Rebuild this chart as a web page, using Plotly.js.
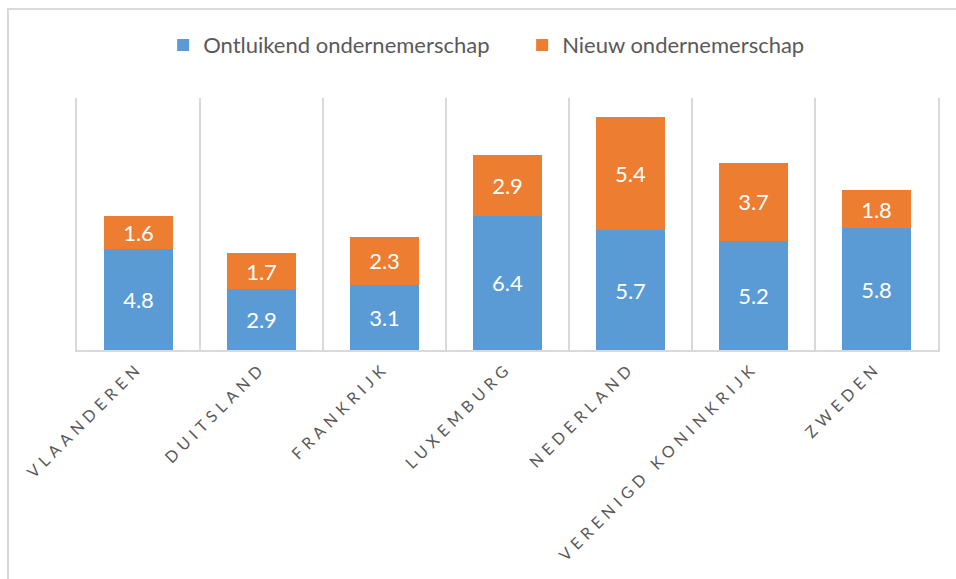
<!DOCTYPE html>
<html>
<head>
<meta charset="utf-8">
<script src="https://cdn.plot.ly/plotly-3.0.1.min.js"></script>
<style>
  html, body { margin: 0; padding: 0; background: #fff; overflow: hidden; }
  #wrap { position: relative; width: 956px; height: 579px; overflow: hidden; }
  #chart { position: absolute; left: 0; top: 0; width: 956px; height: 579px; }
  #frame { position: absolute; left: 7px; top: 8px; width: 1000px; height: 700px;
           border-top: 2px solid #d9d9d9; border-left: 2px solid #d9d9d9; pointer-events: none; }
  .xtick text { letter-spacing: 5px; }
</style>
</head>
<body>
<div id="wrap">
  <div id="chart"></div>
  <div id="frame"></div>
</div>
<script>
const categories = ["VLAANDEREN", "DUITSLAND", "FRANKRIJK", "LUXEMBURG", "NEDERLAND", "VERENIGD KONINKRIJK", "ZWEDEN"];
const ontluikend = [4.8, 2.9, 3.1, 6.4, 5.7, 5.2, 5.8];
const nieuw = [1.6, 1.7, 2.3, 2.9, 5.4, 3.7, 1.8];
const seriesNames = ["Ontluikend ondernemerschap", "Nieuw ondernemerschap"];

const FONT = "Lato, 'Open Sans', sans-serif";
const labelFont = { family: FONT, size: 22, color: "#ffffff" };

const traces = [
  {
    type: "bar", name: seriesNames[0], x: categories, y: ontluikend,
    marker: { color: "#5B9BD5" },
    text: ontluikend.map(v => v.toFixed(1)), textposition: "inside",
    insidetextanchor: "middle", textangle: 0, constraintext: "none",
    textfont: labelFont, hoverinfo: "none"
  },
  {
    type: "bar", name: seriesNames[1], x: categories, y: nieuw,
    marker: { color: "#ED7D31" },
    text: nieuw.map(v => v.toFixed(1)), textposition: "inside",
    insidetextanchor: "middle", textangle: 0, constraintext: "none",
    textfont: labelFont, hoverinfo: "none"
  }
];

const layout = {
  width: 956, height: 579,
  margin: { l: 77, r: 18, t: 98, b: 229, pad: 0 },
  barmode: "stack",
  bargap: 0.44,
  paper_bgcolor: "#ffffff",
  plot_bgcolor: "#ffffff",
  font: { family: FONT, color: "#595959" },
  showlegend: true,
  legend: {
    orientation: "h", x: 0.517, xanchor: "center", y: 1.21, yanchor: "middle",
    yref: "paper", font: { family: FONT, size: 22, color: "#595959" },
    entrywidth: 314, entrywidthmode: "pixels",
    traceorder: "normal", itemclick: false, itemdoubleclick: false
  },
  xaxis: {
    type: "category",
    tickson: "boundaries",
    showgrid: true, gridcolor: "#d9d9d9", gridwidth: 2,
    showline: true, linecolor: "#d9d9d9", linewidth: 2,
    ticks: "", tickangle: -45,
    tickfont: { family: FONT, size: 16, color: "#595959" },
    zeroline: false, fixedrange: true
  },
  yaxis: {
    range: [0, 12], showgrid: false, zeroline: false,
    showticklabels: false, ticks: "",
    showline: true, mirror: true, linecolor: "#d9d9d9", linewidth: 2,
    fixedrange: true
  }
};

Plotly.newPlot("chart", traces, layout, { displayModeBar: false, staticPlot: true });
</script>
</body>
</html>
